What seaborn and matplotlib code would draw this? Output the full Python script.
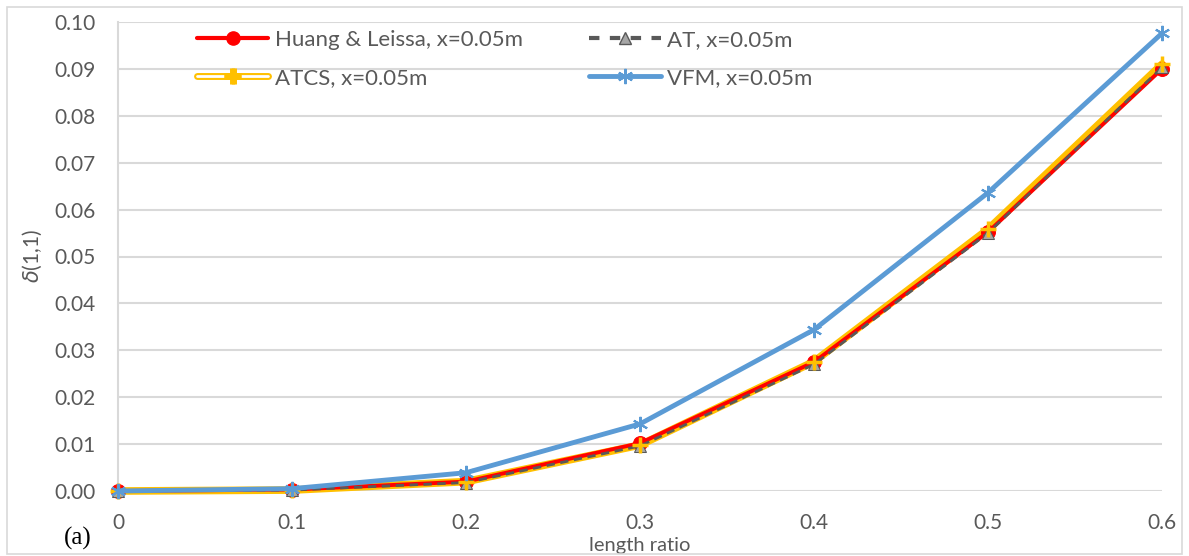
import numpy as np
import pandas as pd
import matplotlib
matplotlib.use("Agg")
import matplotlib.pyplot as plt
import matplotlib.patheffects as pe
from matplotlib.lines import Line2D
from matplotlib.patches import Rectangle
import seaborn as sns

length_ratio = [0.0, 0.1, 0.2, 0.3, 0.4, 0.5, 0.6]
tick_labels = ["0", "0.1", "0.2", "0.3", "0.4", "0.5", "0.6"]
huang = [0.0, 0.0003, 0.0020, 0.0102, 0.0275, 0.0552, 0.0900]
at_vals = [0.0, 0.0002, 0.0018, 0.0096, 0.0270, 0.0550, 0.0903]
atcs = [0.0, 0.0002, 0.0020, 0.0098, 0.0276, 0.0558, 0.0910]
vfm = [0.0, 0.0005, 0.0039, 0.0143, 0.0344, 0.0636, 0.0976]
names = ["Huang & Leissa, x=0.05m", "AT, x=0.05m", "ATCS, x=0.05m", "VFM, x=0.05m"]

sns.set_theme(style="white")
plt.rcParams["font.family"] = ["Lato", "DejaVu Sans"]

fig = plt.figure(figsize=(11.89, 5.56), dpi=100)
ax = fig.add_axes([118/1189, 1-491/556, (1162-118)/1189, (491-22)/556])

gray_txt = "#595959"
red = "#ff0000"
dgray = "#595959"
gold = "#ffc000"
blue = "#5b9bd5"

df = pd.DataFrame({"x": length_ratio, "huang": huang, "at": at_vals, "atcs": atcs, "vfm": vfm})

# ATCS line (underneath)
sns.lineplot(data=df, x="x", y="atcs", ax=ax, color=gold, lw=5.5, zorder=2, clip_on=False)
# Huang
sns.lineplot(data=df, x="x", y="huang", ax=ax, color=red, lw=2.8, marker="o", markersize=10,
             markerfacecolor=red, markeredgecolor=red, zorder=3, clip_on=False)
# AT
sns.lineplot(data=df, x="x", y="at", ax=ax, color=dgray, lw=2.0, dashes=(3, 2), marker="^",
             markersize=8, markerfacecolor="#a6a6a6", markeredgecolor=dgray, zorder=4, clip_on=False)
# ATCS markers on top
ax.plot(df["x"], df["atcs"], linestyle="", marker="+", markersize=12, markeredgewidth=2.5,
        color=gold, zorder=5, clip_on=False)
# VFM
sns.lineplot(data=df, x="x", y="vfm", ax=ax, color=blue, lw=3.5, marker=(6, 2, 0), markersize=11,
             markeredgewidth=1.5, markeredgecolor=blue, zorder=6, clip_on=False)

ax.set_xlim(0, 0.6)
ax.set_ylim(0, 0.10)
yt = np.arange(0, 0.1001, 0.01)
ax.set_yticks(yt)
ax.set_yticklabels([f"{v:.2f}" for v in yt])
ax.set_xticks(length_ratio)
ax.set_xticklabels(tick_labels)
ax.tick_params(axis="both", labelsize=15, colors=gray_txt, length=0)
ax.tick_params(axis="x", pad=16)
ax.tick_params(axis="y", pad=16)
ax.grid(axis="y", color="#d9d9d9", lw=1.5)
ax.set_axisbelow(True)
for s in ["top", "right", "bottom"]:
    ax.spines[s].set_visible(False)
ax.spines["left"].set_color("#d9d9d9")
ax.spines["left"].set_linewidth(1.5)

ax.set_xlabel("length ratio", fontsize=14.5, color=gray_txt)
ax.xaxis.set_label_coords(0.5, (491-545)/469, transform=ax.transAxes)
ax.xaxis.label.set_va("center")
ax.set_ylabel(r"$\delta$(1,1)", fontsize=15, color=gray_txt)
ax.yaxis.set_label_coords((32-118)/1044, 0.5)
ax.yaxis.label.set_va("center")

fig.text(64/1189, 1-538/556, "(a)", fontsize=18, family="Liberation Serif", color="black", va="center")

h_huang = Line2D([], [], color=red, lw=3, marker="o", markersize=9.5, markerfacecolor=red,
                 markeredgecolor=red)
h_at = Line2D([], [], color=dgray, lw=3, dashes=(2.5, 2.5), marker="^", markersize=8,
              markerfacecolor="#a6a6a6", markeredgecolor=dgray)
h_atcs = Line2D([], [], color="white", lw=2.0, marker="+", markersize=12, markeredgewidth=2.5,
                markeredgecolor=gold,
                path_effects=[pe.Stroke(linewidth=5.0, foreground=gold), pe.Normal()])
h_vfm = Line2D([], [], color=blue, lw=3.5, marker=(6, 2, 0), markersize=11, markeredgewidth=1.5,
               markeredgecolor=blue)
# row-wise order: row1 Huang, AT ; row2 ATCS, VFM (matplotlib fills by columns)
leg = fig.legend([h_huang, h_atcs, h_at, h_vfm], [names[0], names[2], names[1], names[3]],
                 ncol=2, loc="upper left", bbox_to_anchor=(197/1189, 1-30/556),
                 frameon=False, fontsize=16, handlelength=3.2, columnspacing=3.0,
                 labelspacing=0.8, handletextpad=0.3, borderpad=0, borderaxespad=0)
for t in leg.get_texts():
    t.set_color(gray_txt)

fig.patches.append(Rectangle((7/1189, 2/556), 1-14/1189, 1-9/556, transform=fig.transFigure,
                             fill=False, edgecolor="#d9d9d9", lw=1.2))

fig.savefig("out.png", dpi=100)
